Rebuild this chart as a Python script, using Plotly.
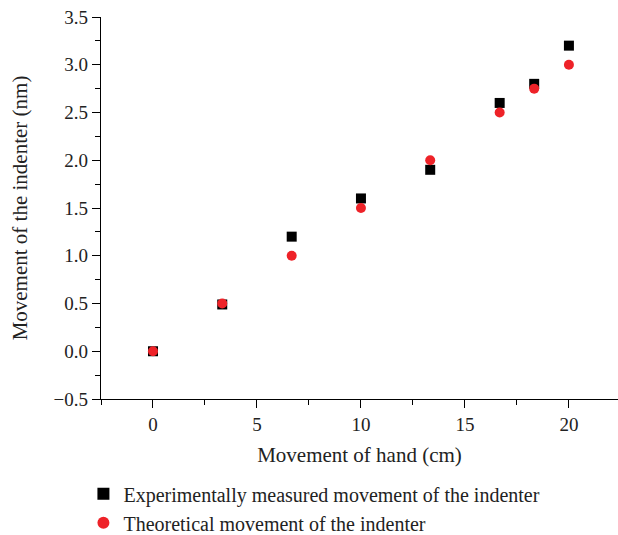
import plotly.graph_objects as go

hand_cm = [0, 3.33, 6.67, 10, 13.33, 16.67, 18.33, 20]
measured_nm = [0.0, 0.49, 1.2, 1.6, 1.9, 2.6, 2.8, 3.2]
theoretical_nm = [0.0, 0.5, 1.0, 1.5, 2.0, 2.5, 2.75, 3.0]

x_ticks = [0, 5, 10, 15, 20]
y_ticks = [-0.5, 0.0, 0.5, 1.0, 1.5, 2.0, 2.5, 3.0, 3.5]

font_family = "Liberation Serif"
text_color = "#222"

fig = go.Figure()
fig.add_trace(go.Scatter(
    x=hand_cm, y=measured_nm, mode="markers",
    name="Experimentally measured movement of the indenter",
    marker=dict(symbol="square", size=10, color="#000000"),
))
fig.add_trace(go.Scatter(
    x=hand_cm, y=theoretical_nm, mode="markers",
    name="Theoretical movement of the indenter",
    marker=dict(symbol="circle", size=10, color="#ee2228"),
))

axis_common = dict(
    showline=True, linecolor="black", linewidth=1.3,
    ticks="outside", ticklen=8, tickwidth=1.3, tickcolor="black",
    showgrid=False, zeroline=False, mirror=False,
    tickfont=dict(family=font_family, size=19, color=text_color),
)

fig.update_layout(
    width=618, height=535,
    margin=dict(l=101, r=0, t=17, b=136, autoexpand=False),
    paper_bgcolor="white", plot_bgcolor="white",
    font=dict(family=font_family, size=20, color=text_color),
    showlegend=True,
    legend=dict(
        x=-0.034, y=-0.197, xanchor="left", yanchor="top",
        font=dict(family=font_family, size=20, color=text_color),
        bgcolor="rgba(0,0,0,0)", tracegroupgap=0, itemsizing="constant",
    ),
    xaxis=dict(
        **axis_common,
        range=[-2.5, 22.36],
        tickvals=x_ticks,
        minor=dict(dtick=2.5, tick0=-2.5, ticks="outside", ticklen=5, tickwidth=1.3, tickcolor="black"),
        title=dict(text="Movement of hand (cm)", standoff=13,
                   font=dict(family=font_family, size=21, color=text_color)),
    ),
    yaxis=dict(
        **axis_common,
        range=[-0.5, 3.5],
        tickvals=y_ticks,
        tickformat=".1f",
        minor=dict(dtick=0.25, tick0=-0.5, ticks="outside", ticklen=5, tickwidth=1.3, tickcolor="black"),
        title=dict(text="Movement of the indenter (nm)", standoff=20,
                   font=dict(family=font_family, size=21, color=text_color)),
    ),
)

fig.write_html(
    "out.html",
    config={"displayModeBar": False},
    post_script="document.body.style.margin='0';document.body.style.overflow='hidden';",
)
